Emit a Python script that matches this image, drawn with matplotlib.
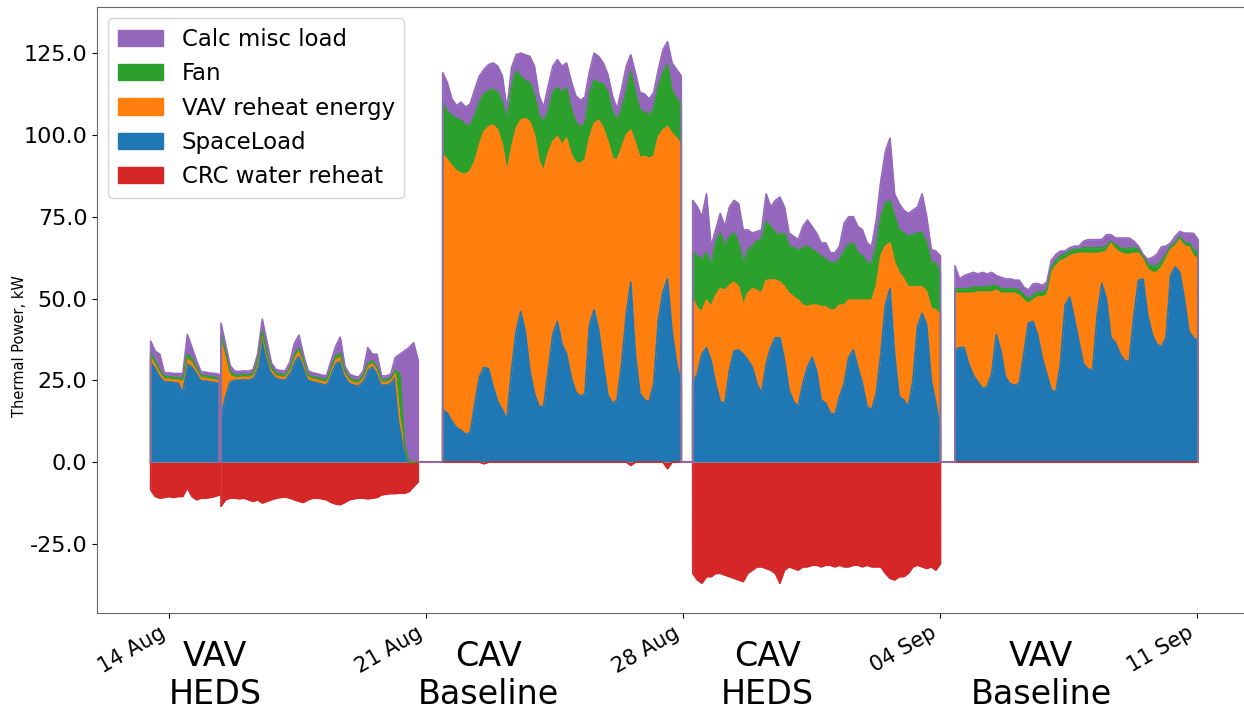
import numpy as np
import matplotlib
matplotlib.use("Agg")
import matplotlib.pyplot as plt
import matplotlib.dates as mdates
import matplotlib.transforms as mtrans
from matplotlib.patches import Patch

# ---- data (kW), 3-hourly samples per test period ----
# VAV HEDS, part a (starts 13 Aug 12:00)
seg1a_space = [30.5, 28.5, 26, 24.5, 24.5, 24.3, 24.2, 21, 30, 29, 27, 24.8, 24.8, 24.5, 24.3, 24]
seg1a_reheat = [1.5, 1.2, 1, 0.8, 0.8, 0.8, 0.8, 3.5, 1.5, 1.3, 1, 0.8, 0.8, 0.8, 0.8, 0.8]
seg1a_fan = [1.5, 1.2, 1, 0.8, 0.8, 0.8, 0.8, 1, 1.5, 1.3, 1, 0.8, 0.8, 0.8, 0.8, 0.8]
seg1a_misc = [3.5, 3, 5, 1.2, 1.2, 1.2, 1.3, 1.5, 6, 3.5, 2, 1.2, 1.1, 1.1, 1.2, 1.2]
seg1a_crc = [-8.5, -10.5, -11, -10.8, -10.5, -10.8, -10.5, -10.5, -7.8, -10.5, -11.5, -11, -11, -10.8, -10.5, -10]

# VAV HEDS, part b (starts 15 Aug 10:00)
seg1b_space = [14, 20, 24.5, 25, 25, 25.2, 25, 25.5, 29, 38, 31.5, 27, 25.5, 25.2, 25, 27,
               30.5, 32.2, 29, 25, 24.5, 24.2, 23.8, 23.5, 27, 30, 30.7, 26, 24, 23.5, 23.2, 24.5,
               28, 29, 27, 23.5, 23.5, 24, 26, 12, 4, 0, 0, 0]
seg1b_reheat = [23.5, 12, 2, .8, .8, .8, .8, .8, 1, 1.2, 1, .9, .8, .8, .8, .9,
                1.2, 1.5, 1, .8, .8, .8, .8, .8, 1, 1.2, 1.3, 1, .8, .8, .8, .9,
                1, 1, 1, .8, .8, .8, 1, 1, 0.5, 0, 0, 0]
seg1b_fan = [1.5, 1.5, 1, .8, .8, .8, .8, .8, 1, 1, 1, .9, .8, .8, .8, .9,
             1.1, 1.1, 1, .8, .8, .8, .8, .8, 1, 1.2, 1.2, .9, .8, .8, .8, .9,
             1, 1, 1, .8, .8, .8, 1, 14, 0.5, 0, 0, 0]
seg1b_misc = [3.5, 2.5, 2, 1.2, 1.1, 1.1, 1.2, 1.2, 2, 3.5, 3.5, 1.5, 1.2, 1.2, 1.3, 1.8,
              3.5, 4, 1.7, 1.3, 1.2, 1.2, 1.2, 1.3, 2, 3, 5, 1.5, 1.3, 1.2, 1.2, 1.5,
              5, 2, 4, 1.3, 1.2, 1.3, 4, 6, 29, 35, 36.5, 31]
seg1b_crc = [-13.5, -11.5, -11, -11, -11.2, -11, -11.5, -12, -11.5, -12.5, -12, -11.5, -11, -10.8, -10.6, -11,
             -11.5, -12, -12.3, -11.5, -11, -11, -11.2, -11.5, -12.3, -12.8, -13, -12.3, -11.5, -11.2, -11, -11,
             -11.2, -11, -10.8, -10, -9.8, -9.6, -9.6, -9.5, -9.5, -9, -7.5, -6]

# CAV Baseline (starts 21 Aug 11:00)
seg2_space = [16, 15, 12.5, 10.5, 9.7, 8.5, 9, 18, 26, 29, 28.5, 23, 18.5, 16, 13, 28,
              40, 46, 40, 28, 21, 17, 17, 28, 39, 43, 36, 33, 26, 21.5, 20, 21,
              42, 46.5, 40.5, 30, 20.5, 18, 19, 30, 45, 55, 33, 21, 19, 18.5, 24, 43.4,
              52, 56, 40, 30, 24]
seg2_reheat = [78, 77.5, 78, 78.5, 78.5, 79.5, 80, 74, 71, 72, 74, 80, 83, 81, 75.5, 68,
               62, 58.5, 65, 76, 79, 75, 72, 66.5, 59, 56.5, 61, 66, 68, 70, 71.3, 71.3,
               57, 57, 64, 72, 77.5, 75, 73.3, 66, 55, 46.5, 64.5, 72, 74.5, 74.3, 69.5, 56,
               49.5, 46.5, 60.5, 69, 73]
seg2_fan = [16, 14.5, 15.5, 16, 16.3, 15, 14, 14, 13, 11.5, 11, 11, 11.5, 13, 16, 18.5,
            17.5, 13.5, 11.5, 12, 12, 14, 15, 13, 15, 15, 16, 15.5, 14, 12.5, 11.2, 11.2,
            13.5, 13.3, 11.5, 13.5, 15, 14, 12.2, 12, 13, 18, 15.5, 14.5, 13.5, 13.2, 14.5, 15.4,
            17.5, 19, 13, 12, 12.6]
seg2_misc = [9, 9, 5, 4, 5.5, 5.5, 6.5, 8, 8, 7.5, 8, 8, 8, 8, 3.5, 6,
             5, 7, 8, 8, 9, 6, 4.5, 7.5, 8, 8.5, 8, 7.5, 8.5, 8, 8.1, 8.1,
             7, 8.2, 8, 6.5, 5.5, 5, 3.5, 6, 8, 5, 6, 5.5, 5.5, 5, 5, 5.2,
             7, 7, 8.5, 9, 8.4]
seg2_crc = [0, 0, 0, 0, 0, 0, 0, 0, 0, -0.5, 0, 0, 0, 0, 0, 0,
            0, 0, 0, 0, 0, 0, 0, 0, 0, 0, 0, 0, 0, 0, 0, 0,
            0, 0, 0, 0, 0, 0, 0, 0, 0, -1, 0, 0, 0, 0, 0, 0,
            0, -2, 0, 0, 0]

# CAV HEDS (starts 28 Aug 06:30)
seg3_space = [24, 27, 33, 35, 31, 24, 18.5, 18, 28, 34, 34.3, 33, 31.2, 29, 24, 21,
              30, 35, 38, 38, 31.2, 22, 18.5, 17, 24, 29, 32, 28, 19, 18, 15, 14.5,
              20, 24, 32, 34.3, 29, 24, 17, 16, 21, 33, 48, 53, 33, 20, 19, 17,
              25, 41.4, 45.5, 42, 25, 18, 10]
seg3_reheat = [26, 20, 13, 14.5, 16.5, 27, 34.5, 34.5, 26, 21, 19.3, 15, 20.4, 24, 28.5, 30.6,
               25.5, 20.7, 17.7, 17, 22.4, 29.6, 32, 32.5, 24, 18.5, 16, 20, 28.5, 29.5, 31.5, 32,
               28, 24, 17.5, 15.2, 20.5, 25.5, 32.5, 33.5, 32.6, 30, 18, 14, 28, 38, 37, 36.6,
               28.6, 12.2, 8.1, 10, 22, 28.5, 35]
seg3_fan = [14, 16, 16, 14.5, 12.5, 16, 17, 13.5, 15, 15, 13.4, 13, 13.2, 13, 15, 16.4,
            18, 16.3, 14.3, 14.5, 16.4, 14.4, 15, 15.3, 17.5, 18.5, 17, 16, 15.5, 14.5, 14.5, 14.3,
            14, 16.5, 17, 17.5, 14.5, 13.5, 11.5, 11.3, 12.4, 12, 13, 13, 14, 13, 14, 15.4,
            15.9, 16.4, 16.4, 15, 14, 14.3, 13]
seg3_misc = [16, 15, 13, 18, 6, 4, 6, 6, 9, 10, 12, 10, 6.2, 4, 3, 3,
             8.5, 6, 10, 11.5, 8, 4, 3.5, 3.2, 6.5, 8, 7, 6, 4, 5, 3, 3.2,
             4, 8.5, 8.5, 8, 8, 8, 6, 5.2, 8, 11, 16, 19, 7, 8, 7, 7,
             7.5, 8, 12, 8, 4, 3.7, 5]
seg3_crc = [-34, -36, -37, -35, -35, -34, -34, -34.5, -35, -35.5, -36, -36.5, -34, -33, -32, -32,
            -32.5, -33, -34, -37, -33, -32, -32.5, -33, -32, -32, -31.5, -31.5, -32, -31.5, -31.5, -32,
            -31.5, -32, -32, -31.5, -31.5, -32, -31.5, -32, -32, -32, -34, -35.5, -36, -35, -35, -34,
            -32, -31.5, -32, -32.5, -32, -33, -31]

# VAV Baseline (starts 4 Sep 10:00)
seg4_space = [34.3, 35, 35, 30, 26.5, 24.5, 22.5, 23, 27, 39, 34, 26, 24, 23.5, 24, 33,
              42.5, 43, 39, 32, 27, 22, 21.5, 30, 48, 50.5, 44, 37, 30, 28.5, 28, 45,
              54.6, 50, 38, 36.5, 33, 31, 31, 45, 55.6, 56, 45, 39, 36, 35.3, 38, 57,
              59.7, 58, 50, 40, 38, 37]
seg4_reheat = [17.3, 16.6, 16.6, 21.6, 25.1, 27.5, 29.5, 29, 25, 13.5, 17.6, 25.6, 27.6, 28.1, 27, 16.5,
               6, 6.5, 11.5, 18.5, 24, 36, 38.5, 31.5, 14, 12.5, 19.5, 26.8, 33.8, 35.3, 35.8, 18.8,
               9.4, 14.5, 28.8, 28.5, 31, 32.5, 32.5, 18.8, 8.2, 6, 14, 19, 22, 24.2, 24, 8,
               6.3, 10, 16, 25.8, 25, 25]
seg4_fan = [1.4, 1.4, 1.4, 1.4, 1.9, 1.5, 1.5, 1.5, 2, 1.5, 1.4, 1.4, 1.4, 1.4, 1.5, 1.5,
            1.5, 1.5, 1.5, 1.5, 1.5, 1.5, 1.5, 1.5, 1.5, 1.5, 1.5, 1.2, 1.7, 1.7, 1.7, 1.7,
            1.5, 1.5, 0.7, 1.5, 1.5, 1.5, 2, 1.7, 1.2, 1, 1.5, 2, 2, 2, 1.5, 1,
            1, 1, 1, 1.2, 2, 2]
seg4_misc = [7, 3, 4, 4.5, 4.5, 4, 4.5, 4, 4, 3, 3.5, 3, 3, 2.6, 3.1, 2.5,
             2.6, 3.5, 2.6, 2, 2.5, 2.2, 2, 1.5, 1, 1, 1, 1, 2, 2.5, 2.5, 2.5,
             2.5, 3.5, 2, 2, 3, 3.5, 3, 2, 1, 0.5, 1.5, 2.5, 3.5, 4.3, 2.5, 1,
             2, 1.5, 3, 3, 4.9, 4]
seg4_crc = [0] * 54

seg_starts = ["2020-08-13T12:00", "2020-08-15T10:00", "2020-08-21T11:00",
              "2020-08-28T06:30", "2020-09-04T10:00"]
segments = [
    (seg1a_space, seg1a_reheat, seg1a_fan, seg1a_crc, seg1a_misc),
    (seg1b_space, seg1b_reheat, seg1b_fan, seg1b_crc, seg1b_misc),
    (seg2_space, seg2_reheat, seg2_fan, seg2_crc, seg2_misc),
    (seg3_space, seg3_reheat, seg3_fan, seg3_crc, seg3_misc),
    (seg4_space, seg4_reheat, seg4_fan, seg4_crc, seg4_misc),
]
names = ["SpaceLoad", "VAV reheat energy", "Fan", "CRC water reheat", "Calc misc load"]
colors = ["#1f77b4", "#ff7f0e", "#2ca02c", "#d62728", "#9467bd"]
period_labels = ["VAV\nHEDS", "CAV\nBaseline", "CAV\nHEDS", "VAV\nBaseline"]
period_centers = ["2020-08-15T06:00", "2020-08-22T17:00", "2020-08-30T07:30", "2020-09-06T18:30"]
tick_days = ["2020-08-14", "2020-08-21", "2020-08-28", "2020-09-04", "2020-09-11"]

# ---- assemble one continuous series, zero between test periods ----
step = np.timedelta64(180, "m")
eps = np.timedelta64(1, "m")
times = []
cols = [[] for _ in names]
for start, seg in zip(seg_starts, segments):
    n = len(seg[0])
    t = np.datetime64(start) + step * np.arange(n)
    times += [t[0] - eps] + list(t) + [t[-1] + eps]
    for k, vals in enumerate(seg):
        cols[k] += [0.0] + list(vals) + [0.0]
times = np.array(times, dtype="datetime64[m]")
cols = [np.array(c, dtype=float) for c in cols]

fig = plt.figure(figsize=(12.44, 7.1), dpi=100)
ax = fig.add_axes([97 / 1244, 97 / 710, 1153 / 1244, 606 / 710])

pos = np.zeros(len(times))
neg = np.zeros(len(times))
for vals, color in zip(cols, colors):
    if vals.min() < 0:
        lower = neg.copy()
        neg = neg + vals
        top = neg
    else:
        lower = pos.copy()
        pos = pos + vals
        top = pos
    ax.plot(times, top, color=color, lw=1.2)
    ax.fill_between(times, lower, top, color=color, lw=0)

ax.set_xlim(np.datetime64("2020-08-12T00:55"), np.datetime64("2020-09-12T10:55"))
ax.set_ylim(-46.1, 139.1)
ax.set_yticks([-25, 0, 25, 50, 75, 100, 125])
ax.yaxis.set_major_formatter(matplotlib.ticker.FormatStrFormatter("%.1f"))
ax.set_xticks([np.datetime64(d) for d in tick_days])
ax.xaxis.set_major_formatter(mdates.DateFormatter("%d %b"))
ax.tick_params(axis="y", labelsize=16)
ax.tick_params(axis="x", labelsize=15)
for lbl in ax.get_xticklabels():
    lbl.set_rotation(30)
    lbl.set_ha("right")
ax.set_ylabel("Thermal Power, kW", fontsize=10.5)
ax.yaxis.set_label_coords(-0.061, 0.44)
for sp in ax.spines.values():
    sp.set_color("#666666")

trans = mtrans.blended_transform_factory(ax.transData, ax.transAxes)
for lab, c in zip(period_labels, period_centers):
    ax.text(np.datetime64(c), -0.103, lab, transform=trans, ha="center", va="center",
            fontsize=24)

order = [4, 2, 1, 0, 3]
handles = [Patch(facecolor=colors[k], edgecolor=colors[k]) for k in order]
ax.legend(handles, [names[k] for k in order], loc="upper left", fontsize=16.5)

fig.savefig("out.png", dpi=100)
